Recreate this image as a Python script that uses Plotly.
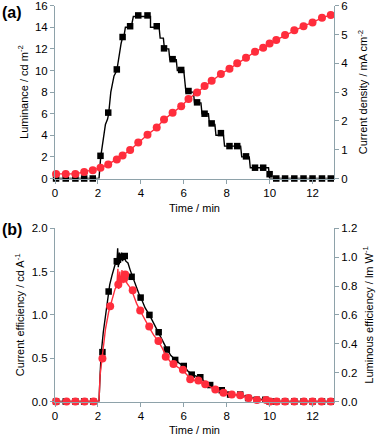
import plotly.graph_objects as go
from plotly.subplots import make_subplots

# ---------------- Panel (a) ----------------
time_a = [0.05, 0.5, 0.95, 1.36, 1.76, 2.12, 2.48, 2.88, 3.15, 3.5, 3.88, 4.31,
          4.74, 5.08, 5.48, 5.88, 6.22, 6.62, 6.97, 7.3, 7.73, 8.13, 8.49, 8.9,
          9.32, 9.7, 10.0, 10.31, 10.72, 11.15, 11.58, 12.0, 12.44, 12.85]
luminance_pts = [0, 0, 0, 0, 0, 2.1, 6.1, 10.1, 13.1, 14.1, 15.1, 15.1,
                 14.1, 12.05, 11.05, 10.05, 8.1, 7.05, 6.0, 5.1, 4.2, 3.0, 3.0, 2.05,
                 1.0, 1.0, 0.4, 0, 0, 0, 0, 0, 0, 0]
current_density_pts = [0.16, 0.16, 0.16, 0.23, 0.29, 0.37, 0.49, 0.66, 0.8, 0.99, 1.25, 1.52,
                       1.77, 2.05, 2.28, 2.51, 2.76, 2.99, 3.21, 3.39, 3.63, 3.81, 4.0, 4.19,
                       4.4, 4.54, 4.69, 4.81, 4.98, 5.15, 5.29, 5.42, 5.58, 5.68]

lum_line_t = [0, 2.05, 2.13, 2.25, 2.35, 2.45, 2.5, 2.6, 2.75, 2.88, 2.95, 3.0, 3.08, 3.14,
              3.2, 3.28, 3.55, 3.65, 4.45, 4.45, 4.85, 4.9, 5.05, 5.1, 5.3, 5.35, 5.65, 5.7,
              6.0, 6.05, 6.1, 6.45, 6.5, 6.8, 6.85, 7.15, 7.2, 7.45, 7.5, 7.85, 7.9, 8.65,
              8.7, 9.05, 9.1, 9.95, 10.0, 13.0]
lum_line_v = [0, 0, 2, 3.5, 5, 5.5, 6, 8, 9.5, 10, 11, 11.5, 12.5, 13,
              13, 14, 14, 15, 15, 14, 14, 13, 13, 12, 12, 11, 11, 10,
              10, 9, 8, 8, 7, 7, 6, 6, 5, 5, 4, 4, 3, 3,
              2, 2, 1, 1, 0, 0]

# ---------------- Panel (b) ----------------
time_b_black = [0.05, 0.5, 0.95, 1.36, 1.78, 2.21, 2.5, 2.88, 3.15, 3.25, 3.57, 3.99,
                4.4, 4.83, 5.21, 5.6, 6.0, 6.37, 6.77, 7.23, 7.77, 8.16, 8.63, 9.0,
                9.4, 9.8, 10.0, 10.31, 10.72, 11.15, 11.58, 12.0, 12.44, 12.85]
current_eff_pts = [0, 0, 0, 0, 0, 0.57, 1.27, 1.62, 1.67, 1.68, 1.44, 1.2,
                   1.0, 0.8, 0.6, 0.48, 0.41, 0.31, 0.28, 0.19, 0.13, 0.08, 0.08, 0.04,
                   0.02, 0.02, 0, 0, 0, 0, 0, 0, 0, 0]
time_b_red = [0.05, 0.54, 0.95, 1.38, 1.8, 2.21, 2.57, 2.95, 3.22, 3.27, 3.62, 3.97,
              4.39, 4.82, 5.16, 5.52, 5.96, 6.3, 6.68, 7.0, 7.47, 7.85, 8.24, 8.63,
              9.02, 9.41, 9.84, 10.02, 10.33, 10.72, 11.15, 11.6, 12.0, 12.42, 12.85]
luminous_eff_pts = [0, 0, 0, 0, 0, 0.298, 0.66, 0.81, 0.85, 0.88, 0.77, 0.63,
                    0.52, 0.42, 0.31, 0.26, 0.22, 0.155, 0.145, 0.12, 0.083, 0.06, 0.048, 0.044,
                    0.025, 0.01, 0.01, 0, 0, 0, 0, 0, 0, 0, 0]

ce_line_t = [0, 2.05, 2.1, 2.15, 2.25, 2.35, 2.45, 2.55, 2.65, 2.75, 2.82, 2.88, 2.92, 2.95,
             3.0, 3.05, 3.1, 3.15, 3.2, 3.3, 3.4, 3.5, 3.6, 3.7, 3.8, 3.9, 4.0, 4.2, 4.4,
             4.6, 4.8, 5.0, 5.2, 5.4, 5.6, 5.8, 6.0, 6.2, 6.4, 6.6, 6.8, 7.0, 7.2, 7.5,
             7.8, 8.1, 8.4, 8.7, 9.0, 9.4, 9.8, 10.0, 13.0]
ce_line_v = [0, 0, 0.3, 0.55, 0.8, 1.0, 1.2, 1.35, 1.45, 1.55, 1.6, 1.58, 1.77, 1.55,
             1.72, 1.6, 1.72, 1.62, 1.7, 1.62, 1.6, 1.52, 1.45, 1.38, 1.3, 1.25, 1.2, 1.08, 1.0,
             0.9, 0.8, 0.7, 0.61, 0.53, 0.48, 0.44, 0.41, 0.35, 0.31, 0.29, 0.27, 0.22, 0.19, 0.15,
             0.13, 0.09, 0.08, 0.07, 0.05, 0.03, 0.02, 0, 0]
le_line_t = [0, 2.05, 2.1, 2.2, 2.35, 2.5, 2.6, 2.7, 2.8, 2.88, 2.93, 2.97, 3.02, 3.07,
             3.12, 3.17, 3.25, 3.35, 3.45, 3.6, 3.8, 4.0, 4.2, 4.4, 4.6, 4.8, 5.0, 5.2,
             5.4, 5.6, 5.8, 6.0, 6.3, 6.6, 7.0, 7.5, 8.0, 8.5, 9.0, 9.5, 10.0, 13.0]
le_line_v = [0, 0, 0.18, 0.3, 0.5, 0.62, 0.68, 0.73, 0.78, 0.8, 0.92, 0.78, 0.9, 0.8,
             0.91, 0.82, 0.87, 0.82, 0.8, 0.76, 0.68, 0.62, 0.56, 0.51, 0.46, 0.42, 0.37, 0.31,
             0.27, 0.25, 0.23, 0.21, 0.16, 0.14, 0.12, 0.08, 0.055, 0.045, 0.025, 0.01, 0, 0]

x_ticks = [0, 2, 4, 6, 8, 10, 12]

BLACK = "#000000"
RED = "#ff2d3c"
AXIS = "#8ea2aa"
FONT = "Liberation Sans"

fig = make_subplots(rows=2, cols=1, specs=[[{"secondary_y": True}], [{"secondary_y": True}]])

# (a)
fig.add_trace(go.Scatter(x=lum_line_t, y=lum_line_v, mode="lines",
                         line=dict(color=BLACK, width=1.4), showlegend=False, cliponaxis=False),
              row=1, col=1, secondary_y=False)
fig.add_trace(go.Scatter(x=time_a, y=luminance_pts, mode="markers",
                         marker=dict(color=BLACK, symbol="square", size=6.5), showlegend=False,
                         cliponaxis=False),
              row=1, col=1, secondary_y=False)
fig.add_trace(go.Scatter(x=time_a, y=current_density_pts, mode="lines+markers",
                         line=dict(color=RED, width=1.4),
                         marker=dict(color=RED, symbol="circle", size=8), showlegend=False,
                         cliponaxis=False),
              row=1, col=1, secondary_y=True)

# (b)
fig.add_trace(go.Scatter(x=ce_line_t, y=ce_line_v, mode="lines",
                         line=dict(color=BLACK, width=1.4), showlegend=False, cliponaxis=False),
              row=2, col=1, secondary_y=False)
fig.add_trace(go.Scatter(x=time_b_black, y=current_eff_pts, mode="markers",
                         marker=dict(color=BLACK, symbol="square", size=6.5), showlegend=False,
                         cliponaxis=False),
              row=2, col=1, secondary_y=False)
fig.add_trace(go.Scatter(x=le_line_t, y=le_line_v, mode="lines",
                         line=dict(color=RED, width=1.4), showlegend=False, cliponaxis=False),
              row=2, col=1, secondary_y=True)
fig.add_trace(go.Scatter(x=time_b_red, y=luminous_eff_pts, mode="markers",
                         marker=dict(color=RED, symbol="circle", size=8), showlegend=False,
                         cliponaxis=False),
              row=2, col=1, secondary_y=True)

W, H = 387, 436
xd = [55 / W, 334 / W]
ya = [1 - 178.5 / H, 1 - 5.7 / H]
yb = [1 - 401.5 / H, 1 - 228.3 / H]

axis_common = dict(showline=True, linecolor=AXIS, linewidth=1, ticks="outside",
                   tickcolor=AXIS, ticklen=4, tickwidth=1, showgrid=False, zeroline=False,
                   automargin=False, ticklabeloverflow="allow",
                   tickfont=dict(family=FONT, size=11.5, color="black"),
                   title_font=dict(family=FONT, size=11, color="black"))

fig.update_layout(
    width=W, height=H, margin=dict(l=0, r=0, t=0, b=0, autoexpand=False),
    paper_bgcolor="white", plot_bgcolor="white",
    xaxis=dict(axis_common, domain=xd, range=[0, 13], tickvals=x_ticks,
               title=dict(text="Time / min", standoff=6), anchor="y"),
    yaxis=dict(axis_common, domain=ya, range=[0, 16], tickvals=[0, 2, 4, 6, 8, 10, 12, 14, 16],
               title=dict(text="Luminance / cd m<sup>-2</sup>", standoff=4)),
    yaxis2=dict(axis_common, domain=ya, range=[0, 6], tickvals=[0, 1, 2, 3, 4, 5, 6],
                side="right", overlaying="y",
                title=dict(text="Current density / mA cm<sup>-2</sup>", standoff=12)),
    xaxis2=dict(axis_common, domain=xd, range=[0, 13], tickvals=x_ticks,
                title=dict(text="Time / min", standoff=6), anchor="y3"),
    yaxis3=dict(axis_common, domain=yb, range=[0, 2.0], tickvals=[0, 0.5, 1.0, 1.5, 2.0],
                tickformat=".1f",
                title=dict(text="Current efficiency / cd A<sup>-1</sup>", standoff=4)),
    yaxis4=dict(axis_common, domain=yb, range=[0, 1.2], tickvals=[0, 0.2, 0.4, 0.6, 0.8, 1.0, 1.2],
                tickformat=".1f", side="right", overlaying="y3",
                title=dict(text="Luminous efficiency / lm W<sup>-1</sup>", standoff=8)),
)

fig.add_annotation(text="<b>(a)</b>", xref="paper", yref="paper", x=0, y=1 - 2 / H,
                   xanchor="left", yanchor="top", showarrow=False,
                   font=dict(family=FONT, size=16, color="black"))
fig.add_annotation(text="<b>(b)</b>", xref="paper", yref="paper", x=0, y=1 - 219 / H,
                   xanchor="left", yanchor="top", showarrow=False,
                   font=dict(family=FONT, size=16, color="black"))

fig.write_html("out.html", config={"displayModeBar": False},
               post_script="document.body.style.margin='0px';document.body.style.overflow='hidden';")
